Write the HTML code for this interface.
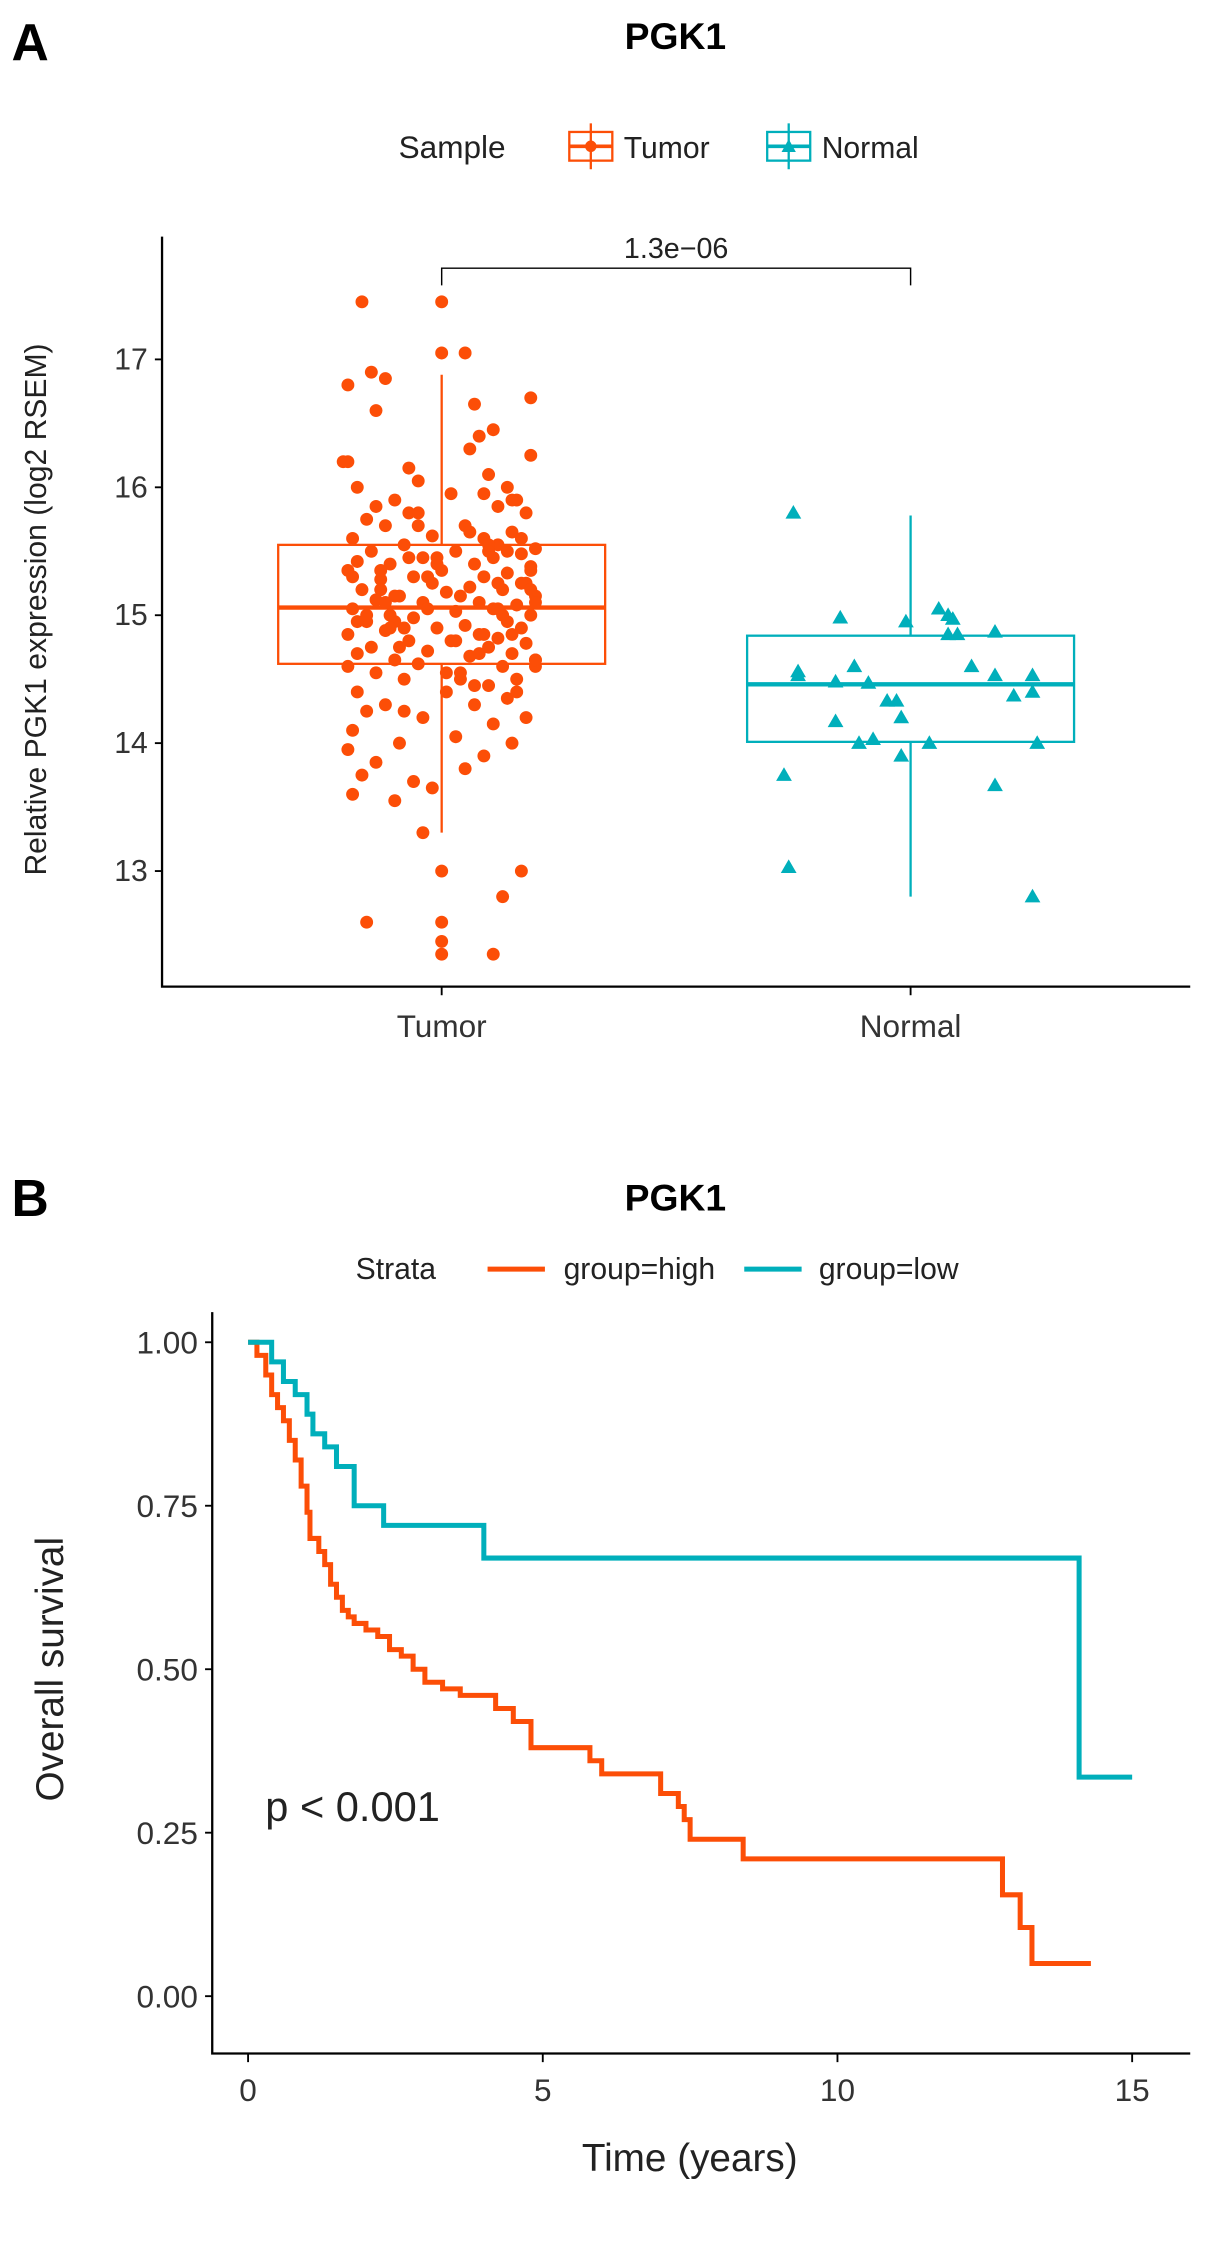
<!DOCTYPE html>
<html><head><meta charset="utf-8"><style>
html,body{margin:0;padding:0;background:#fff;}
svg{display:block;font-family:"Liberation Sans",Arial,sans-serif;}
</style></head><body>
<svg id="fig" width="1205" height="2244" viewBox="0 0 840.3 1564.8" xmlns="http://www.w3.org/2000/svg">
<g>
<text x="8" y="42" font-size="36" font-weight="bold">A</text>
<text x="471" y="34" font-size="26" font-weight="bold" text-anchor="middle">PGK1</text>
<g>
<text x="278" y="110" font-size="22" fill="#222">Sample</text>
<g>
<rect x="397" y="92" width="30" height="20" fill="none" stroke="#FC4E07" stroke-width="1.6"/><line x1="412" y1="86" x2="412" y2="118" stroke="#FC4E07" stroke-width="1.6"/><line x1="397" y1="102" x2="427" y2="102" stroke="#FC4E07" stroke-width="2.5"/><circle cx="412" cy="102" r="4" fill="#FC4E07"/>
<text x="435" y="110" font-size="21" fill="#222">Tumor</text></g>
<g>
<rect x="535" y="92" width="30" height="20" fill="none" stroke="#00AFBB" stroke-width="1.6"/><line x1="550" y1="86" x2="550" y2="118" stroke="#00AFBB" stroke-width="1.6"/><line x1="535" y1="102" x2="565" y2="102" stroke="#00AFBB" stroke-width="2.5"/><polygon points="550,97 555,106 545,106" fill="#00AFBB"/>
<text x="573" y="110" font-size="21" fill="#222">Normal</text></g>
</g>
<text transform="translate(32,425) rotate(-90)" font-size="21" text-anchor="middle" fill="#222">Relative PGK1 expression (log2 RSEM)</text>
<g id="plotA"></g>
</g>
<g>
<text x="8" y="848" font-size="36" font-weight="bold">B</text>
<text x="471" y="844" font-size="26" font-weight="bold" text-anchor="middle">PGK1</text>
<g>
<text x="248" y="892" font-size="21" fill="#222">Strata</text>
<g><line x1="340" y1="885" x2="380" y2="885" stroke="#FC4E07" stroke-width="3.5"/><text x="393" y="892" font-size="21" fill="#222">group=high</text></g>
<g><line x1="519" y1="885" x2="559" y2="885" stroke="#00AFBB" stroke-width="3.5"/><text x="571" y="892" font-size="21" fill="#222">group=low</text></g>
</g>
<text transform="translate(44,1164) rotate(-90)" font-size="27" text-anchor="middle" fill="#222">Overall survival</text>
<text x="481" y="1514" font-size="27" text-anchor="middle" fill="#222">Time (years)</text>
<text x="185" y="1270" font-size="29" fill="#222">p &lt; 0.001</text>
<g id="plotB"></g>
</g>
</svg>
<script>
// ---------- Panel A data ----------
const categoriesA = ["Tumor","Normal"];
const yTicksA = [13,14,15,16,17];
const boxTumor = [13.3,14.62,15.06,15.55,16.88];
const boxNormal = [12.8,14.01,14.46,14.84,15.78];
const pValueA = "1.3e\u221206";
const tumorValues = [17.45,17.45,17.05,17.05,16.9,16.85,16.8,16.65,16.6,16.4,16.25,16.2,16.2,16.1,16.05,16.0,16.0,15.95,15.9,15.9,15.85,15.8,15.8,15.75,15.7,15.7,15.65,15.62,15.6,15.6,15.55,15.55,15.52,15.5,15.5,15.48,15.45,15.45,15.42,15.4,15.4,15.38,15.35,15.35,15.33,15.3,15.3,15.28,15.25,15.25,15.22,15.2,15.2,15.18,15.15,15.15,15.12,15.1,15.1,15.08,15.05,15.05,15.03,15.0,15.0,14.98,14.95,14.95,14.92,14.9,14.9,14.88,14.85,14.85,14.82,14.8,14.8,14.78,14.75,14.75,14.72,14.7,14.7,14.68,14.65,14.65,14.62,14.6,14.6,14.55,14.55,14.5,14.5,14.45,14.4,14.4,14.35,14.3,14.3,14.25,14.2,14.2,14.15,14.1,14.05,14.0,14.0,13.95,13.9,13.85,13.8,13.75,13.7,13.6,13.55,13.3,13.0,13.0,12.8,12.6,12.6,12.45,12.35,12.35,15.4,15.1,14.9,15.6,15.3,14.7,15.0,15.2,14.5,15.8,16.3,16.7,15.5,14.95,15.15,14.6,15.45,15.25,15.05,14.85,
 15.35,15.15,14.95,15.55,15.25,14.75,15.05,15.45,14.65,15.65,16.15,15.9,15.3,14.85,15.1,14.55,15.5,15.2,15.0,14.8,15.7,14.4,15.95,14.25,16.45,13.65,15.85,14.45,15.35,14.9];
const tumorJitter = [-0.17,0.0,0.0,0.05,-0.15,-0.12,-0.2,0.07,-0.14,0.08,0.19,-0.2,-0.21,0.1,-0.05,0.14,-0.18,0.02,-0.1,0.16,0.12,-0.07,0.18,-0.16,0.05,-0.12,0.15,-0.02,0.09,-0.19,0.12,-0.08,0.2,-0.15,0.03,0.17,-0.04,0.11,-0.18,0.07,-0.11,0.19,0.0,-0.2,0.14,-0.06,0.09,-0.13,0.18,-0.02,0.06,-0.17,0.13,0.01,-0.09,0.2,-0.14,0.08,-0.04,0.16,-0.19,0.11,0.03,-0.11,0.19,-0.06,0.14,-0.16,0.05,-0.01,0.17,-0.12,0.09,-0.2,0.12,-0.07,0.02,0.18,-0.15,0.1,-0.03,0.15,-0.18,0.06,-0.1,0.2,-0.05,0.13,-0.2,0.04,-0.14,0.16,-0.08,0.1,-0.18,0.01,0.14,-0.12,0.07,-0.16,0.18,-0.04,0.11,-0.19,0.03,0.15,-0.09,-0.2,0.09,-0.14,0.05,-0.17,-0.06,-0.19,-0.1,-0.04,0.0,0.17,0.13,-0.16,0.0,0.0,0.0,0.11,-0.01,0.2,-0.08,0.17,-0.03,0.08,0.13,-0.13,0.04,-0.05,0.06,0.19,0.14,-0.1,-0.1,0.2,-0.07,0.12,-0.03,0.15,
 -0.13,0.04,-0.18,0.1,0.17,-0.09,0.12,-0.01,0.2,0.06,-0.07,0.15,-0.19,0.08,-0.12,0.01,0.1,0.19,-0.16,0.03,-0.05,0.16,0.09,-0.08,0.11,-0.02,-0.14,0.07,0.19,-0.11];
const normalValues = [15.8,14.98,14.56,14.53,14.48,14.6,14.47,14.33,14.33,14.95,15.05,15.0,14.97,14.85,14.85,14.87,14.53,14.37,14.53,14.4,14.0,14.6,14.0,14.03,14.0,14.2,13.9,14.17,13.75,13.67,13.03,12.8];
const normalJitter = [-0.25,-0.15,-0.24,-0.24,-0.16,-0.12,-0.09,-0.05,-0.03,-0.01,0.06,0.08,0.09,0.08,0.10,0.18,0.18,0.22,0.26,0.26,0.27,0.13,0.04,-0.08,-0.11,-0.02,-0.02,-0.16,-0.27,0.18,-0.26,0.26];

// ---------- Panel B data ----------
const xTicksB = [0,5,10,15];
const yTicksB = [0,0.25,0.5,0.75,1];
const yTickLabelsB = ["0.00","0.25","0.50","0.75","1.00"];
const lowTimes = [0,0.4,0.6,0.8,1.0,1.1,1.3,1.5,1.8,2.3,4.0,14.1,15.0];
const lowSurv  = [1,0.97,0.94,0.92,0.89,0.86,0.84,0.81,0.75,0.72,0.67,0.335,0.335];
const highTimes = [0,0.15,0.3,0.4,0.5,0.6,0.7,0.8,0.9,1.0,1.05,1.2,1.3,1.4,1.5,1.6,1.7,1.8,2.0,2.2,2.4,2.6,2.8,3.0,3.3,3.6,4.2,4.5,4.8,5.8,6.0,7.0,7.3,7.4,7.5,8.4,12.8,13.1,13.3,14.3];
const highSurv  = [1,0.98,0.95,0.92,0.9,0.88,0.85,0.82,0.78,0.74,0.7,0.68,0.66,0.63,0.61,0.59,0.58,0.57,0.56,0.55,0.53,0.52,0.5,0.48,0.47,0.46,0.44,0.42,0.38,0.36,0.34,0.31,0.29,0.27,0.24,0.21,0.155,0.105,0.05,0.05];

const NS="http://www.w3.org/2000/svg";
function mk(parent,tag,attrs){const e=document.createElementNS(NS,tag);for(const k in attrs)e.setAttribute(k,attrs[k]);parent.appendChild(e);return e;}
const COL_T="#FC4E07", COL_N="#00AFBB";

// Panel A
const gA=document.getElementById('plotA');
const yA=v=>429-(v-15)*89.2;
const catStep=327;
const xA=i=>308+i*catStep;
let e;
e=mk(gA,'polyline',{points:"113,165 113,688 830,688",fill:"none",stroke:"#000","stroke-width":1.6});

yTicksA.forEach(t=>{mk(gA,'line',{x1:108,x2:113,y1:yA(t),y2:yA(t),stroke:"#000","stroke-width":1.3});
 e=mk(gA,'text',{x:103,y:yA(t)+7,"font-size":21,"text-anchor":"end",fill:"#333"});e.textContent=t;
 });
categoriesA.forEach((c,i)=>{mk(gA,'line',{x1:xA(i),x2:xA(i),y1:688,y2:694,stroke:"#000","stroke-width":1.3});
 e=mk(gA,'text',{x:xA(i),y:723,"font-size":22,"text-anchor":"middle",fill:"#333"});e.textContent=c;
 });
function box(i,b,col,name){const g=mk(gA,'g',{});
 const cx=xA(i),hw=114;
 mk(g,'line',{x1:cx,x2:cx,y1:yA(b[4]),y2:yA(b[3]),stroke:col,"stroke-width":1.6});
 mk(g,'line',{x1:cx,x2:cx,y1:yA(b[1]),y2:yA(b[0]),stroke:col,"stroke-width":1.6});
 mk(g,'rect',{x:cx-hw,y:yA(b[3]),width:2*hw,height:yA(b[1])-yA(b[3]),fill:"none",stroke:col,"stroke-width":1.6});
 mk(g,'line',{x1:cx-hw,x2:cx+hw,y1:yA(b[2]),y2:yA(b[2]),stroke:col,"stroke-width":3});}
box(0,boxTumor,COL_T,'box-tumor');box(1,boxNormal,COL_N,'box-normal');
tumorValues.forEach((v,k)=>{e=mk(gA,'circle',{cx:xA(0)+tumorJitter[k]*catStep,cy:yA(v),r:4.5,fill:COL_T});
 });
normalValues.forEach((v,k)=>{const x=xA(1)+normalJitter[k]*catStep,y=yA(v);
 e=mk(gA,'polygon',{points:`${x},${y-5.5} ${x+5.5},${y+4} ${x-5.5},${y+4}`,fill:COL_N});
 });
e=mk(gA,'polyline',{points:`${xA(0)},199 ${xA(0)},187 ${xA(1)},187 ${xA(1)},199`,fill:"none",stroke:"#000","stroke-width":1});

e=mk(gA,'text',{x:(xA(0)+xA(1))/2,y:180,"font-size":20,"text-anchor":"middle",fill:"#222"});e.textContent=pValueA;


// Panel B
const gB=document.getElementById('plotB');
const xB=t=>173+t*41.1;
const yB=s=>1392-s*456;
e=mk(gB,'polyline',{points:"148,915 148,1432 830,1432",fill:"none",stroke:"#000","stroke-width":1.6});

yTicksB.forEach((t,i)=>{mk(gB,'line',{x1:143,x2:148,y1:yB(t),y2:yB(t),stroke:"#000","stroke-width":1.3});
 e=mk(gB,'text',{x:138,y:yB(t)+8,"font-size":22,"text-anchor":"end",fill:"#333"});e.textContent=yTickLabelsB[i];
 });
xTicksB.forEach(t=>{mk(gB,'line',{x1:xB(t),x2:xB(t),y1:1432,y2:1438,stroke:"#000","stroke-width":1.3});
 e=mk(gB,'text',{x:xB(t),y:1465,"font-size":22,"text-anchor":"middle",fill:"#333"});e.textContent=t;
 });
function step(times,surv){let p=`${xB(times[0])},${yB(surv[0])}`;for(let i=1;i<times.length;i++){p+=` ${xB(times[i])},${yB(surv[i-1])} ${xB(times[i])},${yB(surv[i])}`;}return p;}
e=mk(gB,'polyline',{points:step(highTimes,highSurv),fill:"none",stroke:COL_T,"stroke-width":3.5});

e=mk(gB,'polyline',{points:step(lowTimes,lowSurv),fill:"none",stroke:COL_N,"stroke-width":3.5});

</script>
</body></html>
